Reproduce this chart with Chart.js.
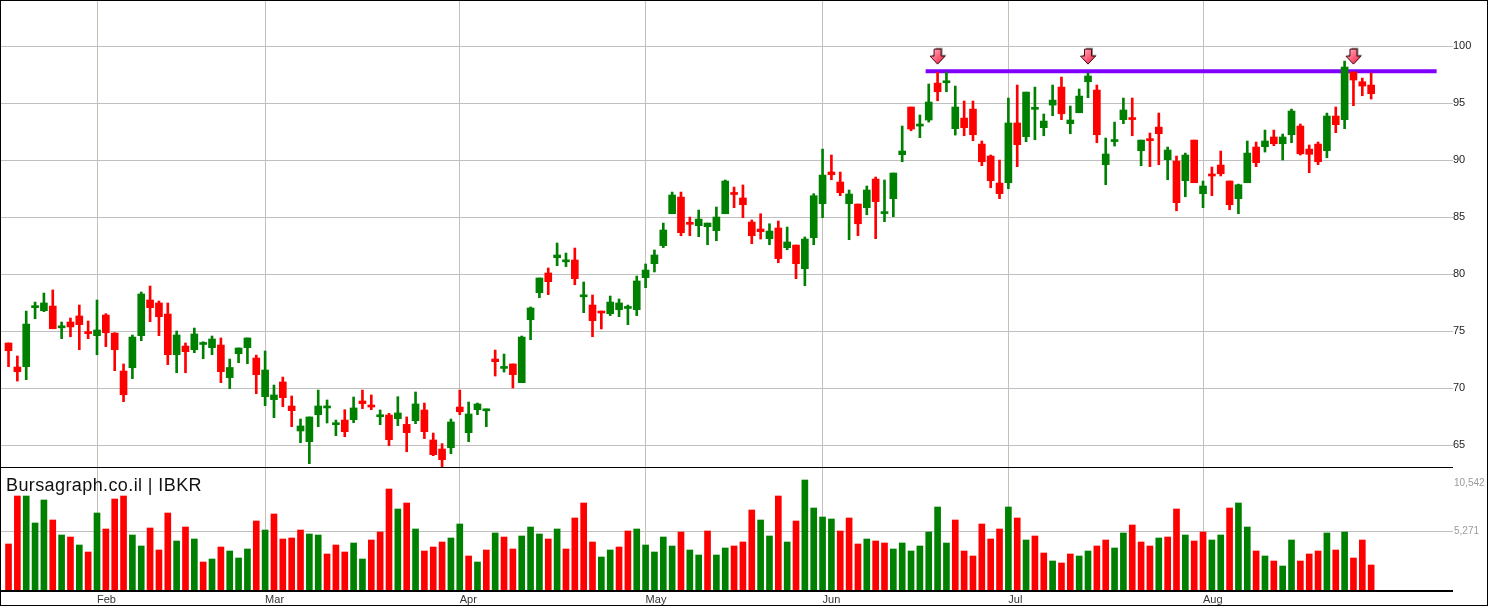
<!DOCTYPE html>
<html>
<head>
<meta charset="utf-8">
<script src="https://cdn.jsdelivr.net/npm/chart.js@4.4.1/dist/chart.umd.min.js"></script>
<style>
    html, body { margin: 0; padding: 0; background: #fff; }
    #wrap { position: relative; width: 1488px; height: 606px; overflow: hidden; }
    #priceBox { position: absolute; left: 0; top: 0; width: 1488px; height: 467px; }
    #volBox { position: absolute; left: 0; top: 467px; width: 1488px; height: 139px; }
    #frame { position: absolute; left: 0; top: 0; width: 1488px; height: 606px; box-sizing: border-box; border: 1px solid #000; pointer-events: none; }
</style>
</head>
<body>
<div id="wrap">
    <div id="priceBox"><canvas id="priceChart"></canvas></div>
    <div id="volBox"><canvas id="volChart"></canvas></div>
    <div id="frame"></div>
</div>
<script>
// 数据：日K线（开/高/低/收）与成交量
const opens = [73.95, 71.84, 71.87, 77.05, 76.78, 77.19, 75.28, 75.79, 76.32, 74.94,
    74.59, 76.4, 74.82, 71.49, 71.78, 74.59, 77.72, 77.46, 76.49, 72.92,
    73.68, 73.36, 73.82, 73.54, 73.77, 70.91, 73.01, 73.54, 72.63, 69.24,
    68.98, 70.53, 68.42, 66.23, 65.29, 67.66, 68.25, 66.78, 67.19, 67.22,
    68.86, 68.42, 67.48, 67.63, 67.31, 66.81, 67.13, 68.07, 65.44, 64.65,
    64.76, 68.33, 66.08, 68.1, 68.0, 72.54, 71.72, 72.11, 70.47, 75.99,
    78.36, 80.09, 81.43, 81.07, 81.23, 78.0, 77.28, 76.75, 76.52, 76.87,
    76.98, 76.87, 79.68, 80.91, 82.49, 85.29, 86.75, 84.5, 84.24, 84.15,
    83.8, 85.29, 87.05, 86.67, 84.56, 83.95, 83.1, 84.04, 82.31, 82.54,
    80.47, 83.19, 86.17, 88.95, 88.07, 86.17, 86.14, 85.82, 88.33, 85.3,
    86.61, 90.47, 94.65, 92.98, 93.51, 96.75, 96.78, 92.75, 93.68, 94.47,
    91.4, 90.35, 87.98, 88.01, 93.25, 92.05, 94.45, 92.84, 94.82, 96.4,
    93.19, 94.15, 96.87, 96.14, 89.59, 91.62, 93.54, 93.65, 90.82, 91.75,
    92.89, 90.03, 89.91, 88.19, 91.75, 87.05, 88.7, 89.56, 88.16, 86.61,
    88.01, 91.14, 91.17, 92.02, 91.43, 92.22, 92.98, 90.96, 91.4, 90.82,
    93.86, 93.54, 97.72, 96.87, 96.58];

const highs = [73.95, 72.81, 76.75, 77.54, 78.33, 78.6, 75.79, 76.14, 77.28, 75.88,
    77.72, 76.52, 74.85, 72.11, 74.65, 78.42, 78.95, 77.63, 77.46, 75.0,
    73.95, 75.26, 74.06, 74.56, 74.39, 72.54, 73.51, 74.39, 72.89, 73.25,
    70.26, 70.96, 69.3, 67.28, 67.46, 69.82, 68.95, 67.19, 68.1, 69.21,
    69.82, 69.39, 68.07, 67.78, 69.24, 67.46, 69.65, 68.68, 66.05, 65.12,
    67.28, 69.82, 68.77, 68.68, 68.16, 73.33, 72.98, 72.11, 74.56, 77.11,
    79.65, 80.53, 82.72, 81.84, 82.28, 79.3, 78.16, 76.75, 78.07, 77.81,
    77.28, 79.82, 80.88, 82.11, 84.47, 87.19, 87.19, 85.0, 85.61, 84.47,
    85.88, 88.25, 87.63, 87.81, 84.74, 85.29, 84.41, 84.65, 84.12, 82.54,
    83.25, 87.05, 90.96, 90.44, 88.95, 87.37, 86.14, 87.72, 88.51, 88.25,
    88.86, 92.98, 94.65, 93.95, 96.67, 97.72, 97.72, 96.49, 95.18, 95.18,
    91.67, 90.44, 90.0, 95.44, 96.58, 95.96, 96.4, 94.04, 96.58, 97.28,
    94.74, 96.23, 97.63, 96.58, 91.93, 93.33, 95.44, 95.44, 91.75, 92.37,
    94.12, 91.14, 90.35, 90.61, 91.75, 88.16, 89.39, 90.79, 88.16, 87.89,
    91.67, 91.58, 92.63, 92.63, 92.28, 94.47, 93.16, 91.32, 91.58, 94.12,
    94.65, 98.68, 97.72, 97.19, 97.63];

const lows = [71.87, 70.61, 70.73, 76.08, 76.7, 75.2, 74.33, 74.5, 73.36, 74.33,
    72.92, 73.63, 71.52, 68.8, 70.82, 74.15, 75.82, 74.59, 72.05, 71.34,
    71.34, 73.1, 72.57, 72.92, 70.47, 69.94, 72.22, 72.13, 69.5, 68.45,
    67.4, 68.36, 66.61, 65.2, 63.36, 66.61, 66.93, 65.82, 65.73, 66.96,
    68.19, 68.1, 66.78, 64.94, 66.7, 64.41, 66.87, 65.56, 64.06, 62.9,
    64.24, 67.66, 65.29, 67.66, 66.61, 71.05, 71.4, 70.0, 70.47, 74.24,
    77.92, 78.19, 80.73, 80.65, 79.06, 76.61, 74.5, 75.18, 76.35, 76.26,
    75.56, 76.35, 78.8, 80.18, 82.32, 85.29, 83.36, 83.36, 83.27, 82.57,
    82.92, 85.29, 85.82, 84.94, 82.66, 83.07, 82.57, 80.99, 82.13, 79.59,
    78.98, 82.57, 84.94, 88.27, 86.87, 83.01, 83.36, 85.2, 83.1, 84.59,
    85.03, 89.85, 92.57, 91.96, 93.33, 95.2, 95.99, 92.19, 92.13, 91.7,
    89.5, 87.57, 86.61, 87.49, 89.42, 91.61, 91.78, 92.13, 93.89, 93.54,
    92.31, 94.15, 95.47, 91.52, 87.84, 91.23, 93.19, 92.13, 89.5, 89.42,
    89.59, 88.27, 85.55, 86.78, 88.01, 85.82, 86.87, 88.6, 85.64, 85.29,
    88.01, 89.42, 90.7, 91.26, 90.0, 91.52, 90.44, 88.89, 89.59, 90.2,
    92.4, 92.75, 94.77, 95.64, 95.35];

const closes = [73.27, 71.43, 75.61, 77.15, 77.46, 75.2, 75.42, 75.36, 75.56, 74.77,
    75.09, 74.85, 73.36, 69.41, 74.47, 78.25, 77.05, 76.26, 72.92, 74.65,
    73.19, 74.74, 73.88, 74.3, 71.43, 71.8, 73.51, 74.39, 71.17, 71.58,
    69.39, 69.15, 68.01, 66.67, 67.46, 68.42, 68.36, 66.84, 66.17, 68.25,
    68.63, 68.33, 67.63, 65.47, 67.81, 66.08, 68.6, 66.17, 64.15, 63.71,
    67.02, 67.92, 67.72, 68.6, 68.08, 72.31, 71.84, 71.17, 74.47, 77.02,
    79.65, 79.33, 81.67, 81.15, 79.59, 78.08, 75.91, 76.58, 77.54, 77.46,
    77.05, 79.39, 80.35, 81.67, 83.86, 86.93, 83.63, 84.36, 84.82, 84.47,
    85.0, 88.16, 86.98, 86.08, 83.36, 83.71, 83.77, 81.35, 82.81, 80.91,
    83.07, 86.87, 88.68, 88.71, 87.13, 87.02, 84.41, 87.37, 86.35, 85.45,
    88.86, 90.79, 92.72, 93.08, 95.09, 95.99, 96.84, 94.65, 92.84, 92.22,
    89.85, 88.19, 87.05, 93.25, 91.35, 95.96, 94.55, 93.42, 95.26, 94.06,
    93.51, 95.61, 97.37, 92.22, 90.53, 91.72, 94.39, 93.55, 91.75, 91.7,
    92.31, 90.88, 86.26, 90.44, 88.01, 87.72, 88.6, 88.8, 86.08, 87.83,
    90.61, 89.77, 91.67, 91.43, 92.02, 94.3, 90.55, 90.5, 89.85, 93.86,
    93.1, 98.16, 97.02, 96.49, 95.82];

const volumes = [4131, 8441, 8441, 6017, 8082, 6286, 4939, 4759, 4041, 3412,
    6915, 5478, 8172, 8441, 4939, 3951, 5568, 3592, 6915, 4400,
    5657, 4580, 2514, 2784, 3861, 3502, 2874, 3682, 6196, 5388,
    6825, 4580, 4670, 5388, 5029, 4939, 3233, 4041, 3412, 4221,
    2784, 4490, 5208, 9070, 7274, 7813, 5478, 3502, 3861, 4310,
    4670, 5927, 3053, 2514, 3592, 5119, 4759, 3682, 4849, 5657,
    5029, 4580, 5478, 3682, 6466, 7813, 4310, 2963, 3592, 3861,
    5298, 5478, 4041, 3412, 4759, 3951, 5208, 3592, 3143, 5298,
    3143, 3772, 3951, 4310, 7184, 6286, 4849, 8441, 4310, 6196,
    9878, 7364, 6555, 6376, 5298, 6466, 4131, 4580, 4400, 4221,
    3682, 4221, 3502, 3951, 5208, 7453, 4221, 6286, 3502, 3053,
    5927, 4580, 5478, 7453, 6466, 4490, 4849, 3323, 2604, 2425,
    3233, 3053, 3502, 3951, 4490, 3772, 5119, 5837, 4310, 3951,
    4670, 4759, 7274, 4939, 4400, 5208, 4490, 4939, 7364, 7813,
    5657, 3502, 3053, 2604, 2155, 4490, 2604, 3233, 3502, 5119,
    3592, 5208, 2874, 4490, 2245];

// 月份刻度（交易日序号）
const monthNames = ['Feb', 'Mar', 'Apr', 'May', 'Jun', 'Jul', 'Aug'];
const monthStarts = [10, 29, 51, 72, 92, 113, 135];
const priceTicks = [65, 70, 75, 80, 85, 90, 95, 100];
const volumeTicks = [5271, 10542];

// 阻力线与信号箭头
const resistance = 97.8;
const resistanceSpan = [103.65, 161.4];
const signalDays = [105, 122, 152];

const GREEN = '#008000';
const RED = '#ff0000';
const FONT = 'Arial, "Liberation Sans", sans-serif';
const X_MIN = -0.85, X_MAX = 163.25;

Chart.defaults.font.family = FONT;

const days = closes.map((_, i) => i);
const candleColor = i => closes[i] >= opens[i] ? GREEN : RED;
const volColor = i => {
    const prev = i === 0 ? opens[0] : closes[i - 1];
    return closes[i] >= prev ? GREEN : RED;
};

// 月份网格（两个面板共用）
function monthAxis(extra) {
    return Object.assign({
        type: 'linear',
        min: X_MIN,
        max: X_MAX,
        offset: false,
        afterBuildTicks: s => { s.ticks = monthStarts.map(v => ({ value: v })); },
        grid: { color: '#c4c0b8', drawTicks: false, offset: false },
        border: { display: false }
    }, extra);
}

// 下箭头
function drawArrow(ctx, cx, tipY) {
    const pts = [[-3.5, -15], [3.5, -15], [3.5, -8], [7.5, -8], [0, 0], [-7.5, -8], [-3.5, -8]];
    const path = (dx, dy) => {
        ctx.beginPath();
        pts.forEach(([px, py], k) => {
            if (k === 0) ctx.moveTo(cx + px + dx, tipY + py + dy);
            else ctx.lineTo(cx + px + dx, tipY + py + dy);
        });
        ctx.closePath();
    };
    ctx.save();
    path(1.5, -1.5);
    ctx.fillStyle = '#8c8c8c';
    ctx.fill();
    path(0, 0);
    const g = ctx.createLinearGradient(cx - 7, tipY - 15, cx + 7, tipY);
    g.addColorStop(0, '#ffb3c0');
    g.addColorStop(0.5, '#ff6680');
    g.addColorStop(1, '#d81c3c');
    ctx.fillStyle = g;
    ctx.fill();
    ctx.lineWidth = 1;
    ctx.strokeStyle = '#4a0a14';
    ctx.stroke();
    ctx.restore();
}

const signalArrows = {
    id: 'signalArrows',
    afterDatasetsDraw(chart) {
        const { ctx, scales: { x, y } } = chart;
        const tipY = y.getPixelForValue(resistance) - 7;
        signalDays.forEach(d => drawArrow(ctx, x.getPixelForValue(d), tipY));
    }
};

const volumeDecor = {
    id: 'volumeDecor',
    afterDraw(chart) {
        const { ctx, chartArea: a, scales: { y } } = chart;
        ctx.save();
        ctx.fillStyle = '#000';
        ctx.fillRect(0, a.top - 1, a.right, 1);
        ctx.fillRect(0, a.bottom, a.right, 2);

        ctx.font = '10px ' + FONT;
        ctx.fillStyle = '#9a9a9a';
        ctx.textBaseline = 'middle';
        ctx.textAlign = 'left';
        volumeTicks.forEach(v => {
            const py = Math.max(y.getPixelForValue(v), a.top + 15);
            ctx.fillText(v.toLocaleString('en-US'), a.right + 1, py);
        });

        ctx.font = '18px ' + FONT;
        ctx.letterSpacing = '0.4px';
        ctx.fillStyle = '#111';
        ctx.textBaseline = 'alphabetic';
        ctx.fillText('Bursagraph.co.il | IBKR', a.left + 5, a.top + 23);
        ctx.restore();
    }
};

// 价格面板
new Chart(document.getElementById('priceChart'), {
    type: 'bar',
    data: {
        datasets: [
            {
                type: 'line',
                data: resistanceSpan.map(x => ({ x: x, y: resistance })),
                borderColor: '#8000ff',
                borderWidth: 4,
                pointRadius: 0,
                order: 3
            },
            {
                data: days.map(i => ({ x: i, y: [lows[i], highs[i]] })),
                backgroundColor: days.map(candleColor),
                barThickness: 2,
                grouped: false,
                order: 2
            },
            {
                data: days.map(i => ({ x: i, y: [opens[i], closes[i]] })),
                backgroundColor: days.map(candleColor),
                barThickness: 7,
                minBarLength: 2,
                grouped: false,
                order: 1
            }
        ]
    },
    options: {
        responsive: true,
        maintainAspectRatio: false,
        animation: false,
        layout: { padding: { left: 1, top: 0, right: 0, bottom: 0 } },
        plugins: { legend: { display: false }, tooltip: { enabled: false } },
        scales: {
            x: monthAxis({
                ticks: { display: false },
                afterFit: s => { s.height = 0; s.paddingLeft = 0; s.paddingRight = 0; }
            }),
            y: {
                position: 'right',
                min: 63.07,
                max: 104.04,
                afterBuildTicks: s => { s.ticks = priceTicks.map(v => ({ value: v })); },
                afterFit: s => { s.width = 35; s.paddingTop = 0; s.paddingBottom = 0; },
                ticks: { padding: 0, color: '#222', font: { size: 11 } },
                grid: { color: '#c0c0c0', drawTicks: false },
                border: { display: false }
            }
        }
    },
    plugins: [signalArrows]
});

// 成交量面板
new Chart(document.getElementById('volChart'), {
    type: 'bar',
    data: {
        datasets: [{
            data: days.map(i => ({ x: i, y: volumes[i] })),
            backgroundColor: days.map(volColor),
            barThickness: 6
        }]
    },
    options: {
        responsive: true,
        maintainAspectRatio: false,
        animation: false,
        layout: { padding: { left: 1, top: 1, right: 0, bottom: 0 } },
        plugins: { legend: { display: false }, tooltip: { enabled: false } },
        scales: {
            x: monthAxis({
                ticks: {
                    align: 'start',
                    padding: 3,
                    color: '#333',
                    font: { size: 11 },
                    callback: v => monthNames[monthStarts.indexOf(v)]
                },
                afterFit: s => { s.height = 16; s.paddingLeft = 0; s.paddingRight = 0; }
            }),
            y: {
                position: 'right',
                min: 0,
                max: 10955,
                afterBuildTicks: s => { s.ticks = volumeTicks.map(v => ({ value: v })); },
                afterFit: s => { s.width = 35; s.paddingTop = 0; s.paddingBottom = 0; },
                ticks: { display: false },
                grid: {
                    color: c => (c.tick && c.tick.value === volumeTicks[0]) ? '#c0c0c0' : 'rgba(0,0,0,0)',
                    drawTicks: false
                },
                border: { display: false }
            }
        }
    },
    plugins: [volumeDecor]
});
</script>
</body>
</html>
